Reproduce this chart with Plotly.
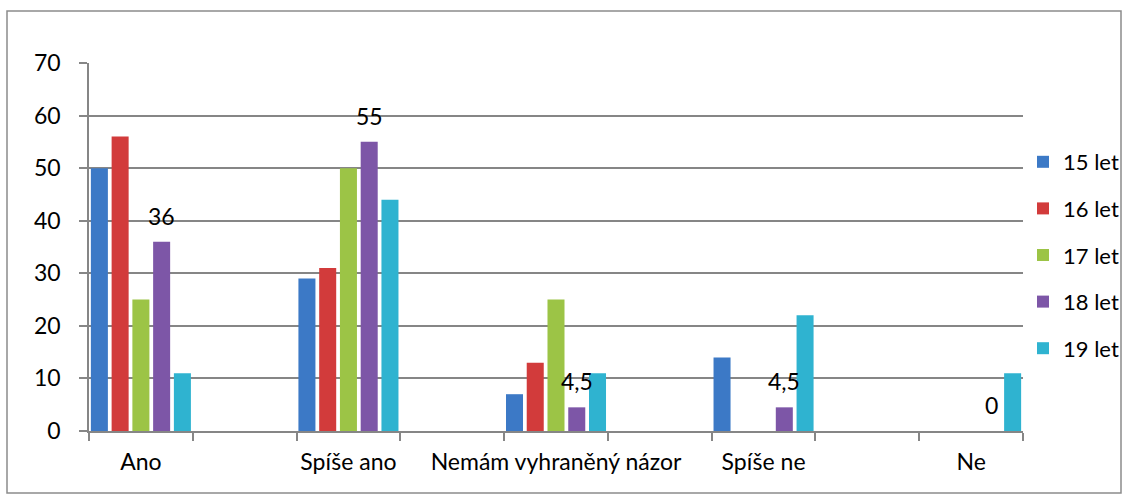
import plotly.graph_objects as go

# odpovědi (kategorie) a věkové skupiny
categories = ["Ano", "Spíše ano", "Nemám vyhraněný názor", "Spíše ne", "Ne"]
series_names = ["15 let", "16 let", "17 let", "18 let", "19 let"]

let15 = [50, 29, 7, 14, 0]
let16 = [56, 31, 13, 0, 0]
let17 = [25, 50, 25, 0, 0]
let18 = [36, 55, 4.5, 4.5, 0]
let19 = [11, 44, 11, 22, 11]

colors = ["#3C79C6", "#D23B3B", "#9CC446", "#7D56A7", "#2FB3D0"]

values = [let15, let16, let17, let18, let19]

# mezi odpověďmi je v grafu prázdná kategorie
x_full = []
for i, c in enumerate(categories):
    x_full.append(c)
    if i < len(categories) - 1:
        x_full.append(" " * (i + 1))

def pad(vals):
    out = []
    for i, v in enumerate(vals):
        out.append(v)
        if i < len(vals) - 1:
            out.append(None)
    return out

FONT = "Lato"
FS = 23

fig = go.Figure()
for name, vals, col in zip(series_names, values, colors):
    fig.add_trace(go.Bar(
        x=x_full, y=pad(vals), name=name,
        marker=dict(color=col, line=dict(width=0)),
        legendgroup=name,
    ))

# popisky hodnot pro řadu 18 let
k = 3
for i, v in enumerate(let18):
    fig.add_annotation(
        x=2 * i + (k - 2) * 0.2, y=v, xref="x", yref="y",
        text=str(v).replace(".", ","), showarrow=False,
        yshift=26, font=dict(family=FONT, size=FS, color="black"),
    )

fig.update_layout(
    width=1129, height=495,
    margin=dict(l=89, r=106, t=63, b=64),
    plot_bgcolor="white", paper_bgcolor="white",
    barmode="group", bargap=0, bargroupgap=0.18,
    font=dict(family=FONT, size=FS, color="black"),
    showlegend=True,
    legend=dict(xref="container", yref="container",
                x=1023 / 1129, y=1 - 255 / 495,
                xanchor="left", yanchor="middle",
                tracegroupgap=15, font=dict(size=22),
                itemwidth=30, bgcolor="rgba(0,0,0,0)"),
    xaxis=dict(type="category", tickson="boundaries", ticks="outside",
               ticklen=8, tickcolor="#868686", tickwidth=1.5, showgrid=False,
               showline=True, linecolor="#868686", linewidth=1.5,
               range=[-0.5, 8.5], tickangle=0, automargin=False,
               ticklabelstandoff=10, fixedrange=True),
    yaxis=dict(range=[0, 70], dtick=10, ticks="outside", ticklen=8,
               tickcolor="#868686", tickwidth=1.5, showgrid=True,
               gridcolor="#868686", gridwidth=1.5, showline=True,
               linecolor="#868686", linewidth=1.5, zeroline=False,
               ticklabelstandoff=14, automargin=False),
)

# rámeček grafu
fig.add_shape(type="rect", xref="paper", yref="paper",
              x0=(7 - 89) / 934, x1=(1121 - 89) / 934,
              y0=(431 - 493) / 368, y1=(431 - 11) / 368,
              line=dict(color="#8C8C8C", width=1.5), layer="below")

fig.write_html("out.html", config={"displayModeBar": False},
               post_script="document.body.style.margin='0';")
